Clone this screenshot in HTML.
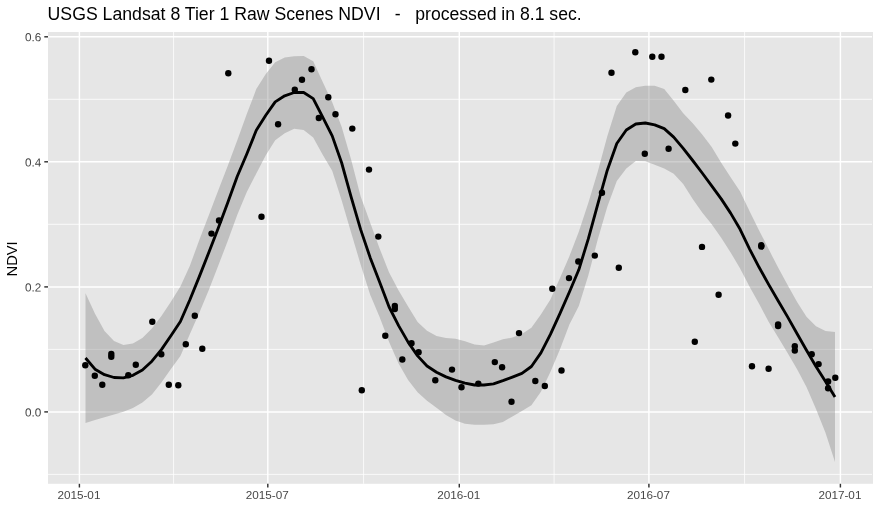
<!DOCTYPE html>
<html lang="en"><head><meta charset="utf-8"><title>NDVI time series</title>
<style>html,body{margin:0;padding:0;background:#fff}svg{display:block}text{font-family:"Liberation Sans",Arial,Helvetica,sans-serif;}</style></head><body>
<svg width="880" height="524" viewBox="0 0 880 524">
<rect width="880" height="524" fill="#fff"/>
<rect x="48" y="32" width="825" height="451.8" fill="#e6e6e6"/>
<g stroke="#fff" stroke-width="0.78" fill="none">
<path d="M48,474.4H872"/>
<path d="M48,349.4H872"/>
<path d="M48,224.3H872"/>
<path d="M48,99.3H872"/>
<path d="M173.6,32V483.8"/>
<path d="M363.6,32V483.8"/>
<path d="M554.1,32V483.8"/>
<path d="M744.6,32V483.8"/>
</g><g stroke="#fff" stroke-width="1.45" fill="none">
<path d="M48,411.9H872"/>
<path d="M48,286.9H872"/>
<path d="M48,161.8H872"/>
<path d="M48,36.8H872"/>
<path d="M79.4,32V483.8"/>
<path d="M267.8,32V483.8"/>
<path d="M459.3,32V483.8"/>
<path d="M648.9,32V483.8"/>
<path d="M840.4,32V483.8"/>
</g>
<path d="M85.5,293.2 L95,313.7 L104.5,330.9 L114,341.1 L123.4,344.9 L132.9,343.5 L142.4,338 L151.9,328.5 L161.4,315.9 L170.9,301.8 L180.4,286.4 L189.9,265.8 L199.3,240 L208.8,215.2 L218.3,190.2 L227.8,165.8 L237.3,140.3 L246.8,114 L256.3,89.1 L265.8,73.9 L275.2,62.2 L284.7,57.6 L294.2,56.3 L303.7,56 L313.2,61.2 L322.7,82.1 L332.2,102.2 L341.7,127 L351.1,159.4 L360.6,196.3 L370.1,222.5 L379.6,248.5 L389.1,272.5 L398.6,290.6 L408.1,306.6 L417.6,322.1 L427,330.8 L436.5,336.1 L446,338 L455.5,338.7 L465,341.2 L474.5,344.4 L484,345.5 L493.5,342.6 L502.9,339.3 L512.4,337.6 L521.9,333.9 L531.4,327.7 L540.9,314.4 L550.4,299.5 L559.9,278.2 L569.4,256.2 L578.8,231.8 L588.3,203 L597.8,171.6 L607.3,136.3 L616.8,106.1 L626.3,92.5 L635.8,87.2 L645.3,85.8 L654.7,85.8 L664.2,89.1 L673.7,100.8 L683.2,113.2 L692.7,123.3 L702.2,134.5 L711.7,146.9 L721.2,162.8 L730.6,177.3 L740.1,191.4 L749.6,211.3 L759.1,230.4 L768.6,249.1 L778.1,267.6 L787.6,284.9 L797.1,301.9 L806.5,316.8 L816,326.3 L825.5,331 L835,332 L835,461.9 L825.5,432.8 L816,408.9 L806.5,387.1 L797.1,369.2 L787.6,353 L778.1,337.2 L768.6,321.7 L759.1,303.7 L749.6,286.7 L740.1,268.4 L730.6,252.4 L721.2,237.7 L711.7,224.2 L702.2,212.4 L692.7,198.9 L683.2,184.1 L673.7,173.8 L664.2,168.6 L654.7,164.8 L645.3,161.2 L635.8,161 L626.3,168.5 L616.8,181 L607.3,206.7 L597.8,239.3 L588.3,275.6 L578.8,306.1 L569.4,324.6 L559.9,349.5 L550.4,371.9 L540.9,391.7 L531.4,405.2 L521.9,410.9 L512.4,416.4 L502.9,422 L493.5,424.3 L484,424.8 L474.5,424.7 L465,423.7 L455.5,420.4 L446,415.1 L436.5,407.8 L427,400.8 L417.6,392.2 L408.1,380.1 L398.6,363.5 L389.1,342 L379.6,317 L370.1,294.4 L360.6,264.4 L351.1,232.4 L341.7,200.5 L332.2,170.7 L322.7,154.7 L313.2,137.4 L303.7,130 L294.2,128.8 L284.7,133.3 L275.2,140.2 L265.8,155.2 L256.3,173.4 L246.8,191.9 L237.3,214.8 L227.8,240.7 L218.3,265.5 L208.8,290.1 L199.3,312.8 L189.9,333.9 L180.4,356 L170.9,369.1 L161.4,382.6 L151.9,394.4 L142.4,402.5 L132.9,408 L123.4,411.8 L114,414.4 L104.5,417.2 L95,420 L85.5,423Z" fill="#878787" fill-opacity="0.4"/>
<path d="M85.5,358 L95,369.2 L104.5,374.7 L114,377.5 L123.4,377.8 L132.9,375.3 L142.4,370 L151.9,361.2 L161.4,349.6 L170.9,335.8 L180.4,321.5 L189.9,299.8 L199.3,276.6 L208.8,252.5 L218.3,228 L227.8,202.6 L237.3,176.3 L246.8,154 L256.3,130.3 L265.8,115.2 L275.2,101.9 L284.7,95.8 L294.2,92.5 L303.7,92.5 L313.2,98.6 L322.7,117.2 L332.2,135.9 L341.7,163 L351.1,196.9 L360.6,229.4 L370.1,257.4 L379.6,282 L389.1,307 L398.6,325.6 L408.1,342.1 L417.6,355.9 L427,366 L436.5,372.3 L446,376.9 L455.5,380.4 L465,383.2 L474.5,385 L484,385 L493.5,383.8 L502.9,380.6 L512.4,377.1 L521.9,373.4 L531.4,366.5 L540.9,352.9 L550.4,334.4 L559.9,313.7 L569.4,292 L578.8,269.8 L588.3,238.9 L597.8,204.1 L607.3,170.2 L616.8,143.5 L626.3,130 L635.8,124 L645.3,123 L654.7,124.9 L664.2,128.6 L673.7,137.1 L683.2,148.3 L692.7,160.5 L702.2,173 L711.7,185.9 L721.2,198.9 L730.6,213.1 L740.1,229.3 L749.6,249.1 L759.1,267.3 L768.6,284.4 L778.1,300.7 L787.6,316.9 L797.1,333.7 L806.5,350.2 L816,366.5 L825.5,381.6 L835,397" fill="none" stroke="#000" stroke-width="2.85" stroke-linejoin="round" stroke-linecap="butt"/>
<g fill="#000">
<circle cx="228.3" cy="73.3" r="3.2"/>
<circle cx="269" cy="60.8" r="3.2"/>
<circle cx="311.5" cy="69.3" r="3.2"/>
<circle cx="302" cy="79.8" r="3.2"/>
<circle cx="294.8" cy="89.8" r="3.2"/>
<circle cx="328.3" cy="97.3" r="3.2"/>
<circle cx="278.1" cy="124.3" r="3.2"/>
<circle cx="318.8" cy="118" r="3.2"/>
<circle cx="335.5" cy="114.3" r="3.2"/>
<circle cx="352.3" cy="128.6" r="3.2"/>
<circle cx="369" cy="169.6" r="3.2"/>
<circle cx="261.5" cy="216.8" r="3.2"/>
<circle cx="219" cy="220.5" r="3.2"/>
<circle cx="211.5" cy="233.6" r="3.2"/>
<circle cx="378.3" cy="236.6" r="3.2"/>
<circle cx="611.5" cy="72.8" r="3.2"/>
<circle cx="635.3" cy="52.3" r="3.2"/>
<circle cx="652.3" cy="56.8" r="3.2"/>
<circle cx="661.5" cy="56.8" r="3.2"/>
<circle cx="711.3" cy="79.6" r="3.2"/>
<circle cx="685.3" cy="90" r="3.2"/>
<circle cx="728.1" cy="115.5" r="3.2"/>
<circle cx="735.3" cy="143.6" r="3.2"/>
<circle cx="668.6" cy="148.8" r="3.2"/>
<circle cx="644.8" cy="153.8" r="3.2"/>
<circle cx="602" cy="192.8" r="3.2"/>
<circle cx="702" cy="246.9" r="3.2"/>
<circle cx="761.3" cy="245.3" r="3.2"/>
<circle cx="761.3" cy="246.6" r="3.2"/>
<circle cx="594.8" cy="255.6" r="3.2"/>
<circle cx="578.3" cy="261.5" r="3.2"/>
<circle cx="85.3" cy="365.3" r="3.2"/>
<circle cx="94.8" cy="375.8" r="3.2"/>
<circle cx="102.3" cy="384.8" r="3.2"/>
<circle cx="111.3" cy="353.9" r="3.2"/>
<circle cx="111.3" cy="356.7" r="3.2"/>
<circle cx="128.3" cy="375.3" r="3.2"/>
<circle cx="135.8" cy="364.8" r="3.2"/>
<circle cx="152.3" cy="321.8" r="3.2"/>
<circle cx="161.3" cy="354.3" r="3.2"/>
<circle cx="168.8" cy="384.8" r="3.2"/>
<circle cx="178.3" cy="385.3" r="3.2"/>
<circle cx="185.8" cy="344.3" r="3.2"/>
<circle cx="194.8" cy="315.8" r="3.2"/>
<circle cx="202.3" cy="348.8" r="3.2"/>
<circle cx="361.8" cy="390.3" r="3.2"/>
<circle cx="385.3" cy="335.8" r="3.2"/>
<circle cx="394.8" cy="306" r="3.2"/>
<circle cx="394.8" cy="309" r="3.2"/>
<circle cx="402.3" cy="359.5" r="3.2"/>
<circle cx="411.5" cy="343.3" r="3.2"/>
<circle cx="418.6" cy="352.3" r="3.2"/>
<circle cx="435.3" cy="380.3" r="3.2"/>
<circle cx="452" cy="369.6" r="3.2"/>
<circle cx="461.5" cy="387.3" r="3.2"/>
<circle cx="478.3" cy="383.6" r="3.2"/>
<circle cx="494.8" cy="362.1" r="3.2"/>
<circle cx="502.1" cy="367.3" r="3.2"/>
<circle cx="511.5" cy="401.8" r="3.2"/>
<circle cx="519" cy="333.1" r="3.2"/>
<circle cx="535.3" cy="381" r="3.2"/>
<circle cx="544.8" cy="386" r="3.2"/>
<circle cx="561.5" cy="370.5" r="3.2"/>
<circle cx="552.3" cy="288.8" r="3.2"/>
<circle cx="569" cy="278.1" r="3.2"/>
<circle cx="618.8" cy="267.8" r="3.2"/>
<circle cx="694.8" cy="341.8" r="3.2"/>
<circle cx="718.6" cy="294.7" r="3.2"/>
<circle cx="752" cy="366.3" r="3.2"/>
<circle cx="768.6" cy="368.8" r="3.2"/>
<circle cx="778.1" cy="324.5" r="3.2"/>
<circle cx="778.1" cy="326.1" r="3.2"/>
<circle cx="794.8" cy="346.3" r="3.2"/>
<circle cx="794.8" cy="350.5" r="3.2"/>
<circle cx="811.7" cy="354.3" r="3.2"/>
<circle cx="818.6" cy="364.1" r="3.2"/>
<circle cx="828.1" cy="381.5" r="3.2"/>
<circle cx="828.1" cy="388.3" r="3.2"/>
<circle cx="835.3" cy="377.8" r="3.2"/>
</g>
<g stroke="#333" stroke-width="1.45">
<path d="M44.3,411.9H48"/>
<path d="M44.3,286.9H48"/>
<path d="M44.3,161.8H48"/>
<path d="M44.3,36.8H48"/>
<path d="M79.4,483.8V487.5"/>
<path d="M267.8,483.8V487.5"/>
<path d="M459.3,483.8V487.5"/>
<path d="M648.9,483.8V487.5"/>
<path d="M840.4,483.8V487.5"/>
</g>
<g fill="#474747" font-size="11.73px">
<text x="41.3" y="416.4" text-anchor="end" transform="rotate(0.03 41.3 416.4)">0.0</text>
<text x="41.3" y="291.4" text-anchor="end" transform="rotate(0.03 41.3 291.4)">0.2</text>
<text x="41.3" y="166.4" text-anchor="end" transform="rotate(0.03 41.3 166.4)">0.4</text>
<text x="41.3" y="41.3" text-anchor="end" transform="rotate(0.03 41.3 41.3)">0.6</text>
<text x="78.9" y="499" text-anchor="middle">2015-01</text>
<text x="267.3" y="499" text-anchor="middle">2015-07</text>
<text x="458.8" y="499" text-anchor="middle">2016-01</text>
<text x="648.4" y="499" text-anchor="middle">2016-07</text>
<text x="839.9" y="499" text-anchor="middle">2017-01</text>
</g>
<text x="47.6" y="20" font-size="17.68px" fill="#000" xml:space="preserve" style="white-space:pre">USGS Landsat 8 Tier 1 Raw Scenes NDVI   <tspan dx="-0.5">-</tspan>   <tspan dx="-0.2" font-size="17.62px">processed in 8.1 sec.</tspan></text>
<text transform="translate(17.1,258.9) rotate(-90)" text-anchor="middle" font-size="14.67px" fill="#000">NDVI</text>
</svg></body></html>
